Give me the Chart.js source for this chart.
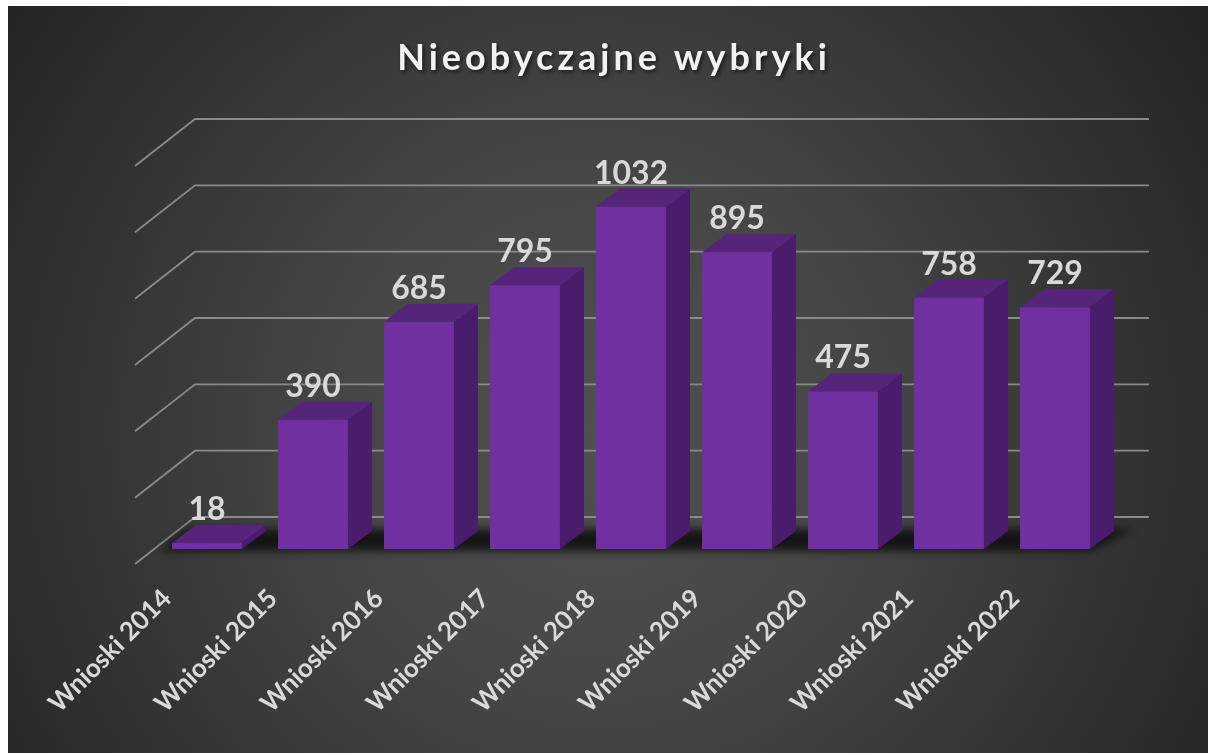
<!DOCTYPE html>
<html>
<head>
<meta charset="utf-8">
<script src="https://cdn.jsdelivr.net/npm/chart.js@4.4.1/dist/chart.umd.min.js"></script>
<style>
  html, body { margin: 0; padding: 0; background: #ffffff; }
  canvas { display: block; }
</style>
</head>
<body>
<canvas id="c" width="1208" height="753"></canvas>
<script>
// ---- data ----
const chartTitle = 'Nieobyczajne wybryki';
const categories = ['Wnioski 2014', 'Wnioski 2015', 'Wnioski 2016', 'Wnioski 2017', 'Wnioski 2018', 'Wnioski 2019', 'Wnioski 2020', 'Wnioski 2021', 'Wnioski 2022'];
const values = [18, 390, 685, 795, 1032, 895, 475, 758, 729];
const axisMin = 0;
const axisMax = 1200;
const axisStep = 200;

// ---- styling ----
const FRONT = '#7030A0';
const TOP = '#57247C';
const SIDE = '#491D6B';
const GRID = '#8a8a8a';
const TEXT = '#d9d9d9';
const DEPTH = { dx: 24, dy: -18 };      // bar depth
const WALL = { dx: 41, dy: -32 };       // back wall offset from bar front plane
const FLOOR_FRONT = { dx: -19, dy: 15 }; // front edge of floor from bar front plane

const scene3d = {
  id: 'scene3d',
  beforeDraw(chart) {
    const ctx = chart.ctx;
    ctx.save();
    ctx.fillStyle = '#ffffff';
    ctx.fillRect(0, 0, chart.width, chart.height);
    const g = ctx.createRadialGradient(600, 430, 0, 600, 430, 760);
    g.addColorStop(0, '#505050');
    g.addColorStop(0.35, '#464646');
    g.addColorStop(1, '#222222');
    ctx.fillStyle = g;
    ctx.fillRect(8, 6, chart.width - 8, chart.height - 6);

    // title
    ctx.font = 'bold 36px Lato';
    ctx.letterSpacing = '4px';
    ctx.textAlign = 'center';
    ctx.textBaseline = 'alphabetic';
    ctx.shadowColor = 'rgba(0,0,0,0.6)';
    ctx.shadowBlur = 4;
    ctx.shadowOffsetX = 2;
    ctx.shadowOffsetY = 2;
    ctx.fillStyle = '#f2f2f2';
    ctx.fillText(chartTitle, 614, 70);
    ctx.restore();
  },
  beforeDatasetsDraw(chart) {
    const ctx = chart.ctx;
    const ys = chart.scales.y;
    const area = chart.chartArea;
    ctx.save();
    ctx.strokeStyle = GRID;
    ctx.lineWidth = 1.8;
    ys.ticks.forEach(t => {
      const y = ys.getPixelForValue(t.value);
      ctx.beginPath();
      ctx.moveTo(area.left + FLOOR_FRONT.dx, y + FLOOR_FRONT.dy);
      ctx.lineTo(area.left + WALL.dx, y + WALL.dy);
      ctx.lineTo(area.right + WALL.dx, y + WALL.dy);
      ctx.stroke();
    });
    // floor shadow beneath bars
    const meta = chart.getDatasetMeta(0);
    const first = meta.data[0], last = meta.data[meta.data.length - 1];
    const base = ys.getPixelForValue(0);
    ctx.filter = 'blur(4px)';
    ctx.fillStyle = 'rgba(15,15,15,0.9)';
    ctx.beginPath();
    ctx.moveTo(first.x - first.width / 2 - 12, base + 2);
    ctx.lineTo(last.x + last.width / 2, base + 2);
    ctx.lineTo(last.x + last.width / 2 + 44, base - 20);
    ctx.lineTo(first.x - first.width / 2 + 14, base - 20);
    ctx.closePath();
    ctx.fill();
    ctx.restore();
  },
  afterDatasetsDraw(chart) {
    const ctx = chart.ctx;
    const meta = chart.getDatasetMeta(0);
    ctx.save();
    meta.data.forEach((bar, i) => {
      const l = bar.x - bar.width / 2, r = bar.x + bar.width / 2;
      const top = bar.y, base = bar.base;
      ctx.fillStyle = TOP;
      ctx.beginPath();
      ctx.moveTo(l, top);
      ctx.lineTo(r, top);
      ctx.lineTo(r + DEPTH.dx, top + DEPTH.dy);
      ctx.lineTo(l + DEPTH.dx, top + DEPTH.dy);
      ctx.closePath();
      ctx.fill();
      ctx.fillStyle = SIDE;
      ctx.beginPath();
      ctx.moveTo(r, top);
      ctx.lineTo(r + DEPTH.dx, top + DEPTH.dy);
      ctx.lineTo(r + DEPTH.dx, base + DEPTH.dy);
      ctx.lineTo(r, base);
      ctx.closePath();
      ctx.fill();
      // value label
      ctx.font = 'bold 32px Lato';
      ctx.fillStyle = TEXT;
      ctx.textAlign = 'center';
      ctx.textBaseline = 'alphabetic';
      ctx.fillText(String(values[i]), bar.x, top + DEPTH.dy - 5);
    });
    ctx.restore();
  }
};

new Chart(document.getElementById('c'), {
  type: 'bar',
  data: {
    labels: categories,
    datasets: [{
      data: values,
      backgroundColor: FRONT,
      borderWidth: 0,
      barPercentage: 0.66,
      categoryPercentage: 1.0
    }]
  },
  options: {
    responsive: false,
    animation: false,
    devicePixelRatio: 1,
    layout: { padding: { left: 154, right: 100, top: 151, bottom: 0 } },
    plugins: { legend: { display: false }, tooltip: { enabled: false }, title: { display: false } },
    scales: {
      x: {
        grid: { display: false },
        border: { display: false },
        ticks: {
          color: TEXT,
          font: { family: 'Lato', weight: 'bold', size: 26 },
          maxRotation: 45,
          minRotation: 45,
          labelOffset: -40,
          padding: 26,
          autoSkip: false
        },
        afterFit(s) { s.height = 204; }
      },
      y: {
        display: false,
        min: axisMin,
        max: axisMax,
        ticks: { stepSize: axisStep }
      }
    }
  },
  plugins: [scene3d]
});
</script>
</body>
</html>
